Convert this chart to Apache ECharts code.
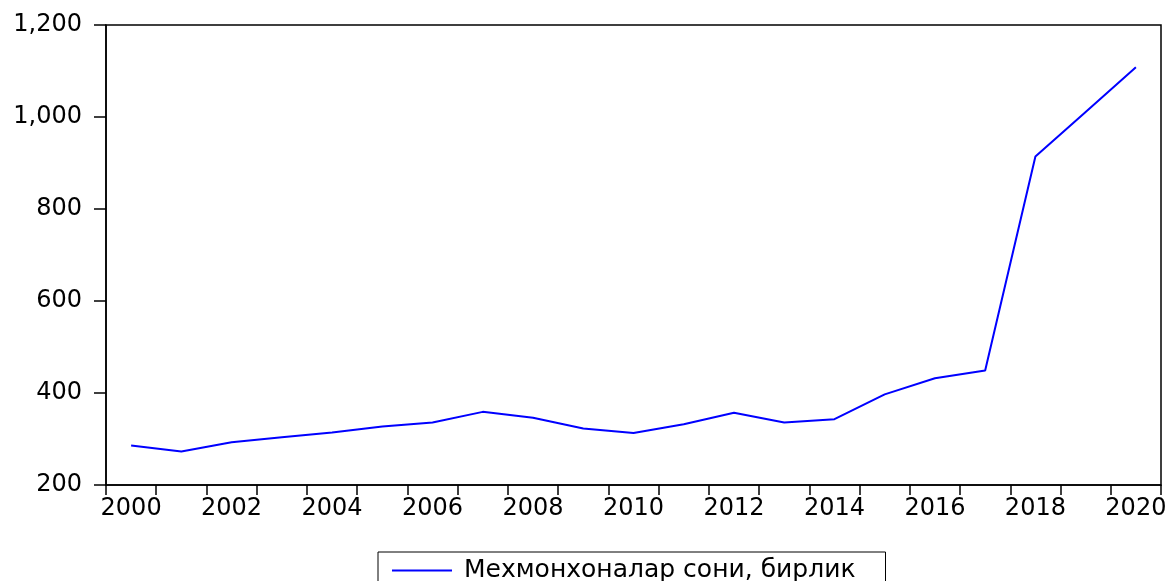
<!DOCTYPE html>
<html>
<head>
<meta charset="utf-8">
<script src="https://cdn.jsdelivr.net/npm/echarts@6/dist/echarts.min.js"></script>
<style>
html, body { margin: 0; padding: 0; background: #fff; }
#container { width: 1171px; height: 581px; }
</style>
</head>
<body>
<div id="container"></div>
<script>
let years = ['2000', '2001', '2002', '2003', '2004', '2005', '2006', '2007', '2008', '2009', '2010',
    '2011', '2012', '2013', '2014', '2015', '2016', '2017', '2018', '2019', '2020'];
let hotels = [286, 273, 293, 304, 314, 327, 336, 359, 346, 323, 313,
    332, 357, 336, 343, 397, 432, 449, 914, 1011, 1108];
let seriesName = 'Мехмонхоналар сони, бирлик';

let dom = document.getElementById('container');
let myChart = echarts.init(dom);
let font = 'DejaVu Sans';

let option = {
    animation: false,
    backgroundColor: '#fff',
    grid: {
        left: 106,
        right: 10,
        top: 25,
        bottom: 96,
        show: true,
        borderColor: '#000',
        borderWidth: 1.5
    },
    legend: {
        left: 378,
        top: 552,
        padding: [6, 30, 10, 14],
        borderColor: '#000',
        borderWidth: 1,
        borderRadius: 0,
        icon: 'rect',
        itemWidth: 60,
        itemHeight: 2,
        itemStyle: { color: '#0000ff' },
        textStyle: {
            fontFamily: font,
            fontSize: 25,
            color: '#000',
            padding: [0, 0, 0, 7]
        },
        data: [seriesName]
    },
    xAxis: {
        type: 'category',
        data: years,
        boundaryGap: true,
        axisLine: { lineStyle: { color: '#000', width: 1.5 } },
        axisTick: { show: true, length: 10, interval: 0, lineStyle: { color: '#000', width: 1.5 } },
        axisLabel: {
            interval: 1,
            margin: 12,
            fontFamily: font,
            fontSize: 24,
            color: '#000'
        },
        splitLine: { show: false }
    },
    yAxis: {
        type: 'value',
        min: 200,
        max: 1200,
        interval: 200,
        axisLine: { show: true, lineStyle: { color: '#000', width: 1.5 } },
        axisTick: { show: true, length: 12, lineStyle: { color: '#000', width: 1.5 } },
        axisLabel: {
            margin: 24,
            fontFamily: font,
            fontSize: 24,
            color: '#000',
            formatter: function (v) {
                return v.toLocaleString('en-US');
            }
        },
        splitLine: { show: false }
    },
    series: [
        {
            name: seriesName,
            type: 'line',
            data: hotels,
            symbol: 'none',
            lineStyle: { color: '#0000ff', width: 2 },
            itemStyle: { color: '#0000ff' }
        }
    ]
};
myChart.setOption(option, true);
</script>
</body>
</html>
